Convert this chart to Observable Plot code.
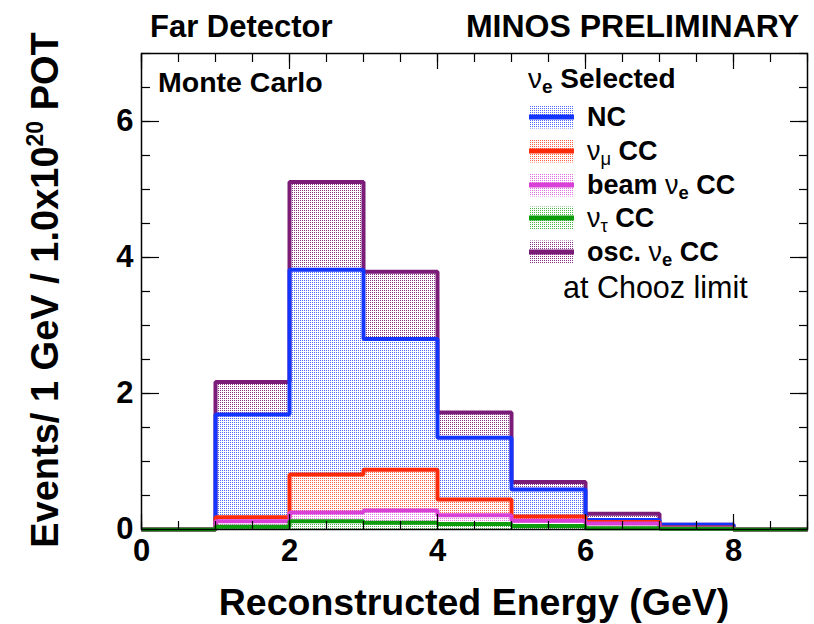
<!DOCTYPE html>
<html><head><meta charset="utf-8">
<script src="https://cdn.jsdelivr.net/npm/d3@7"></script>
<script src="https://cdn.jsdelivr.net/npm/@observablehq/plot@0.6"></script>
<style>html,body{margin:0;padding:0;background:#fff;} #chart{width:814px;height:624px;}</style>
</head><body><div id="chart"></div>
<script>
// ---- data (events per bin, per component; stacked in the plot) ----
const binLowEdges = [0, 1, 2, 3, 4, 5, 6, 7, 8];
const xMax = 9;
const nutauCC   = [0, 0.04, 0.12, 0.10, 0.08, 0.05, 0.02, 0.01, 0];
const beamNueCC = [0, 0.08, 0.13, 0.18, 0.13, 0.08, 0.07, 0.01, 0];
const numuCC    = [0, 0.06, 0.56, 0.60, 0.23, 0.06, 0.02, 0.01, 0];
const ncEvents  = [0, 1.51, 3.01, 1.92, 0.91, 0.40, 0.03, 0.04, 0];
const oscNueCC  = [0, 0.48, 1.29, 0.99, 0.37, 0.11, 0.09, 0.00, 0];
const xTicks = [0, 2, 4, 6, 8];
const yTicks = [0, 2, 4, 6];
const stackOrder = ["nutau", "beam", "numu", "NC", "osc"]; // bottom -> top
const seriesValues = {nutau: nutauCC, beam: beamNueCC, numu: numuCC, NC: ncEvents, osc: oscNueCC};
const legendLabels = [
  {key: "NC",    parts: [["NC", "b"]]},
  {key: "numu",  parts: [["ν", "g"], ["μ", "sg"], [" CC", "b"]]},
  {key: "beam",  parts: [["beam ", "b"], ["ν", "g"], ["e", "s"], [" CC", "b"]]},
  {key: "nutau", parts: [["ν", "g"], ["τ", "sg"], [" CC", "b"]]},
  {key: "osc",   parts: [["osc. ", "b"], ["ν", "g"], ["e", "s"], [" CC", "b"]]}
];

// ---- styles ----
const lineColor = {osc: "#7b1c79", NC: "#1434ff", numu: "#ff2a0a", beam: "#d840d8", nutau: "#0c9c0c"};
const patUrl = k => `url(#pat-${k})`;
const FONT = "'Liberation Sans', Arial, Helvetica, sans-serif";

// table: one row per bin edge, the last edge repeats the last bin (step ending)
const table = [];
for (const s of stackOrder.slice().reverse()) {
  const v = seriesValues[s];
  binLowEdges.forEach((x, i) => table.push({series: s, x, y: v[i]}));
  table.push({series: s, x: xMax, y: v[v.length - 1]});
}

const tickStyle = {stroke: "black", strokeWidth: 1.2, tickFormat: () => "", label: null};
const minorX = d3.range(0, 9.001, 0.5);
const minorY = d3.range(0, 7.001, 0.5);

const plot = Plot.plot({
  width: 814, height: 624,
  marginLeft: 141, marginRight: 7, marginTop: 53, marginBottom: 95,
  x: {domain: [0, 9]},
  y: {domain: [0, 7]},
  color: {type: "identity"},
  style: {fontFamily: FONT, background: "white", overflow: "visible"},
  marks: [
    Plot.areaY(table, {x: "x", y: "y", z: "series", fill: d => patUrl(d.series),
      curve: "step-after", order: stackOrder}),
    Plot.lineY(table, Plot.stackY2({x: "x", y: "y", z: "series", stroke: d => lineColor[d.series],
      curve: "step-after", order: stackOrder, strokeWidth: 4, strokeLinejoin: "miter", strokeLinecap: "butt"})),
    Plot.frame({stroke: "black", strokeWidth: 1.5}),
    Plot.axisX({anchor: "bottom", ticks: minorX, tickSize: -8, ...tickStyle}),
    Plot.axisX({anchor: "bottom", ticks: xTicks, tickSize: -15, ...tickStyle}),
    Plot.axisX({anchor: "top", ticks: minorX, tickSize: -8, ...tickStyle}),
    Plot.axisX({anchor: "top", ticks: xTicks, tickSize: -15, ...tickStyle}),
    Plot.axisY({anchor: "left", ticks: minorY, tickSize: -9, ...tickStyle}),
    Plot.axisY({anchor: "left", ticks: yTicks, tickSize: -18, ...tickStyle}),
    Plot.axisY({anchor: "right", ticks: minorY, tickSize: -9, ...tickStyle}),
    Plot.axisY({anchor: "right", ticks: yTicks, tickSize: -18, ...tickStyle}),
    Plot.axisX({anchor: "bottom", ticks: xTicks, tickSize: 0, tickPadding: 9, tickFormat: d3.format("d"),
      fontSize: 31, fontWeight: "bold", fill: "black", label: null}),
    Plot.axisY({anchor: "left", ticks: yTicks, tickSize: 0, tickPadding: 8, tickFormat: d3.format("d"),
      fontSize: 31, fontWeight: "bold", fill: "black", label: null})
  ]
});
document.getElementById("chart").appendChild(plot);

// ---- patterns (sparse dots of the line colour on white) ----
const svg = d3.select(plot);
const defs = svg.insert("defs", ":first-child");
for (const k of stackOrder) {
  const p = defs.append("pattern").attr("id", `pat-${k}`).attr("patternUnits", "userSpaceOnUse")
    .attr("width", 2).attr("height", 2);
  p.append("rect").attr("width", 2).attr("height", 2).attr("fill", "white");
  p.append("rect").attr("width", 1).attr("height", 1).attr("fill", lineColor[k])
    .attr("fill-opacity", k === "osc" ? 0.9 : 0.75);
}

// ---- texts ----
const txt = (x, y, s, size, weight, anchor = "start") =>
  svg.append("text").attr("x", x).attr("y", y).attr("font-family", FONT).attr("font-size", size)
    .attr("font-weight", weight).attr("text-anchor", anchor).attr("fill", "black").text(s);

txt(150, 37, "Far Detector", 31, "bold");
txt(799, 37, "MINOS PRELIMINARY", 32, "bold", "end");
txt(158, 92, "Monte Carlo", 28.5, "bold");

// x title
txt(474, 615, "Reconstructed Energy (GeV)", 37.5, "bold", "middle");

// y title with superscript
const yt = svg.append("text").attr("transform", "translate(58,290) rotate(-90)")
  .attr("text-anchor", "middle").attr("font-family", FONT).attr("font-weight", "bold")
  .attr("font-size", 38).attr("fill", "black");
yt.append("tspan").text("Events/ 1 GeV / 1.0x10");
yt.append("tspan").attr("font-size", 23).attr("dy", -15).text("20");
yt.append("tspan").attr("dy", 15).text(" POT");

// legend
function richText(x, y, parts, size) {
  const t = svg.append("text").attr("x", x).attr("y", y).attr("font-family", FONT)
    .attr("font-size", size).attr("fill", "black").attr("text-anchor", "start");
  let shifted = 0;
  for (const [s, kind] of parts) {
    const sp = t.append("tspan").text(s);
    let dy = 0;
    if (kind === "s" || kind === "sg") {
      sp.attr("font-size", size * 0.68).attr("font-weight", kind === "s" ? "bold" : "normal");
      dy = 5 - shifted; shifted = 5;
    } else {
      sp.attr("font-weight", kind === "g" ? "normal" : "bold");
      dy = -shifted; shifted = 0;
    }
    if (dy) sp.attr("dy", dy);
  }
  return t;
}
richText(528, 88, [["ν", "g"], ["e", "s"], [" Selected", "b"]], 28);
const rowY = [117, 151, 185, 218, 252];
legendLabels.forEach((d, i) => {
  const cy = rowY[i];
  svg.append("rect").attr("x", 529).attr("y", cy - 11.5).attr("width", 45).attr("height", 23)
    .attr("fill", patUrl(d.key));
  svg.append("line").attr("x1", 529).attr("x2", 574).attr("y1", cy).attr("y2", cy)
    .attr("stroke", lineColor[d.key]).attr("stroke-width", 5);
  richText(587, cy + 9, d.parts, 27);
});
txt(563, 298, "at Chooz limit", 30.5, "normal");
</script>
</body></html>
